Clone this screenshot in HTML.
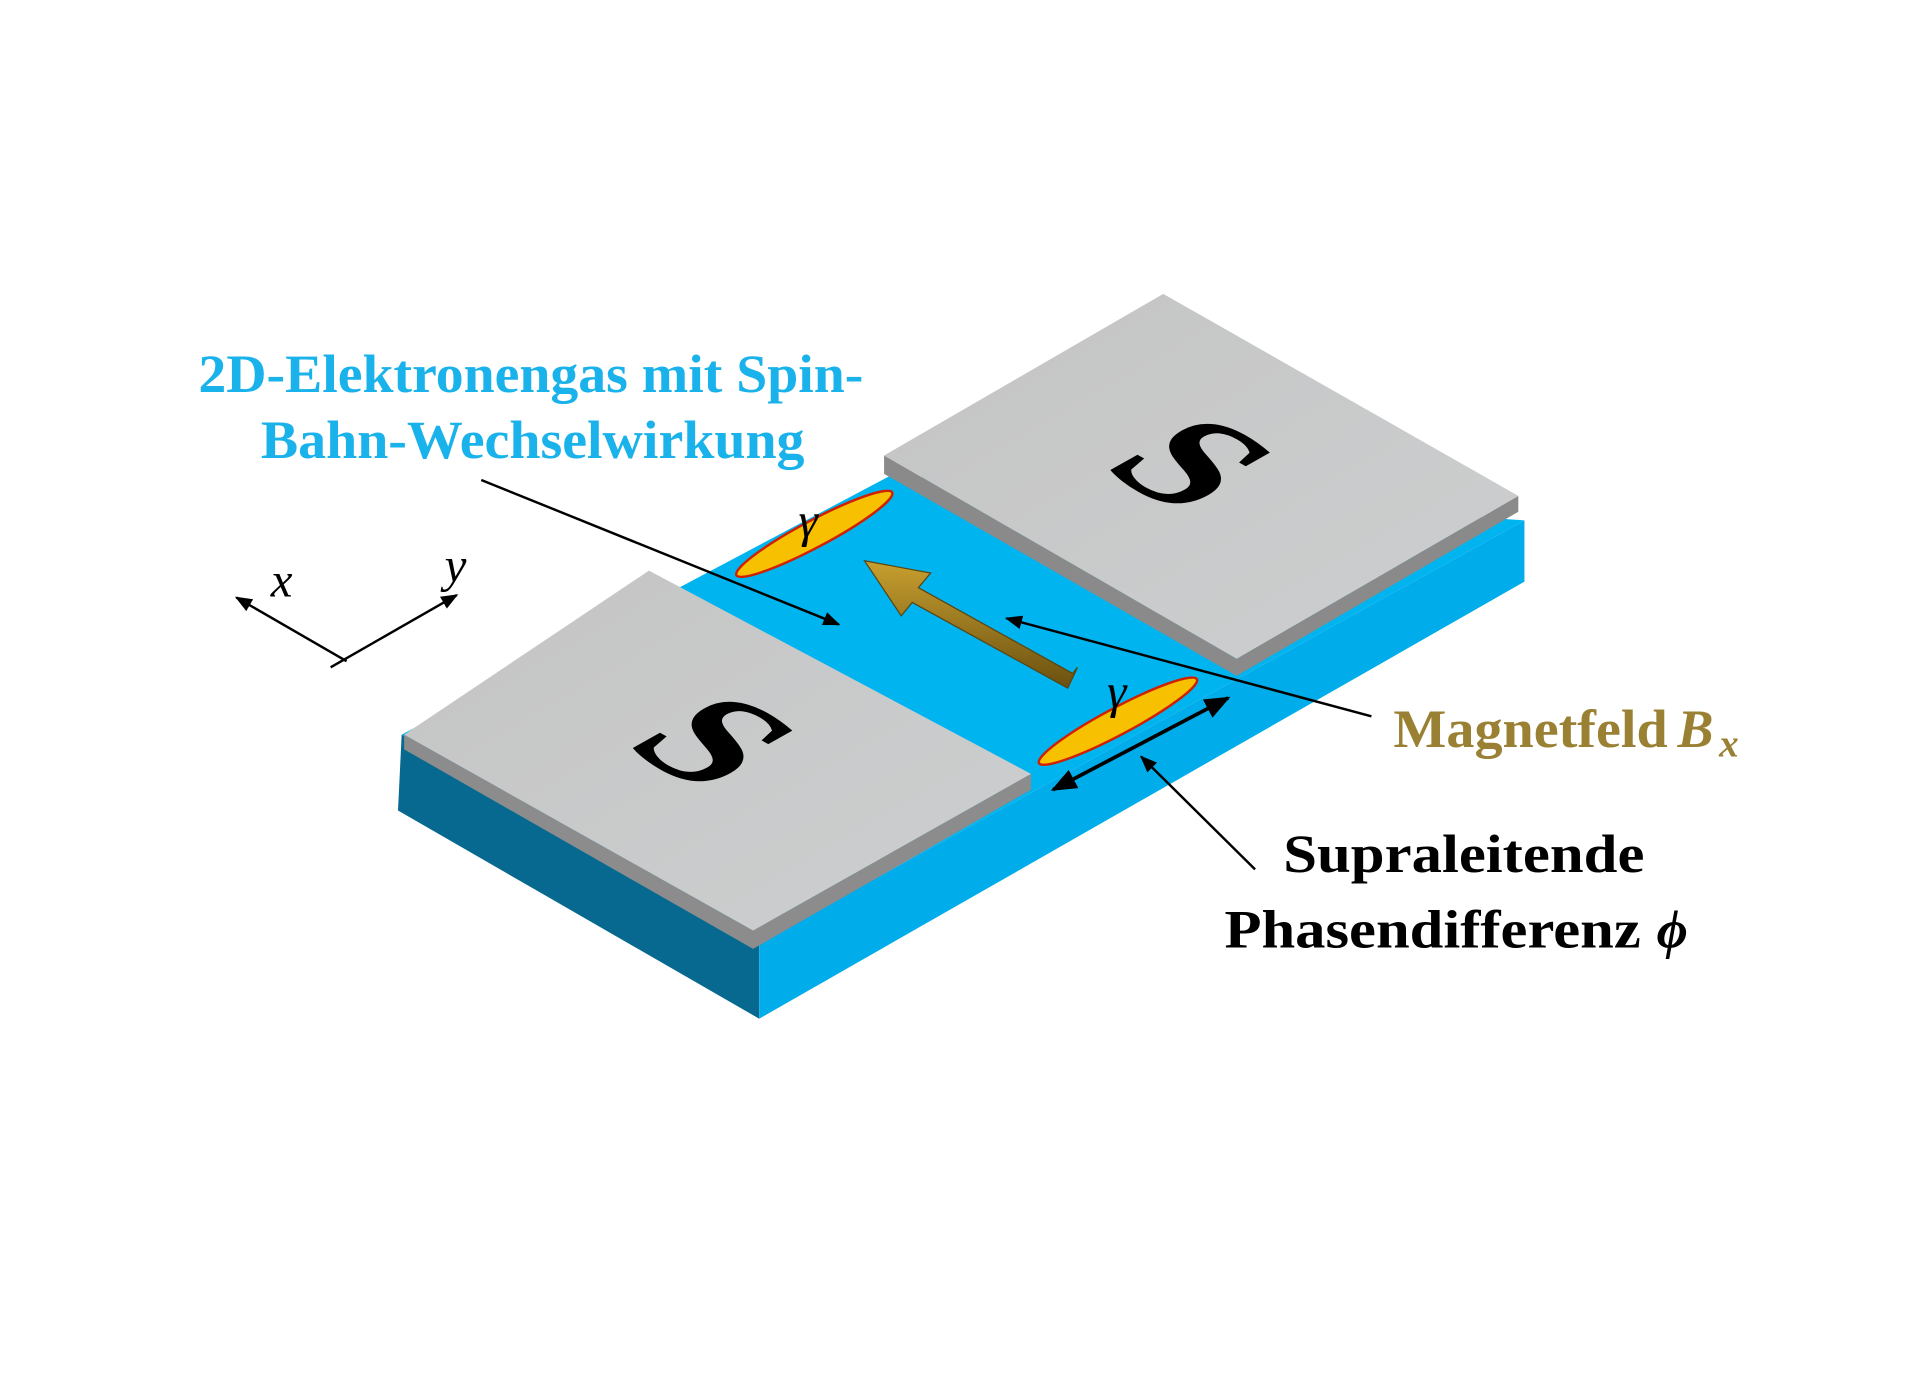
<!DOCTYPE html>
<html><head><meta charset="utf-8"><style>html,body{margin:0;padding:0;background:#fff}svg{display:block}</style></head>
<body>
<svg width="1920" height="1375" viewBox="0 0 1568 1123" xmlns="http://www.w3.org/2000/svg">
<defs>
<linearGradient id="pad" x1="0" y1="0" x2="1" y2="1"><stop offset="0" stop-color="#c4c4c4"/><stop offset="1" stop-color="#cdcfd0"/></linearGradient>
<linearGradient id="gold" x1="0" y1="0" x2="0" y2="1"><stop offset="0" stop-color="#c8a030"/><stop offset="1" stop-color="#6a5010"/></linearGradient>
<marker id="ah" viewBox="0 0 10 10" refX="9" refY="5" markerWidth="7" markerHeight="7" orient="auto-start-reverse"><path d="M0,1 L10,5 L0,9 z" fill="#000"/></marker>
</defs>
<polygon points="328,600 620,770 620,832 325,662" fill="#07698f"/>
<polygon points="620,770 1245,425 1245,475 620,832" fill="#00adea"/>
<polygon points="328,600 728,388 1245,425 620,770" fill="#00b4f0"/>
<polygon points="722,372 722,387 1010,552 1240,418 1240,405 1010,538" fill="#8a8a8a"/>
<polygon points="722,372 950,240 1240,405 1010,538" fill="url(#pad)"/>
<polygon points="330,600 330,612 615,775 842,645 842,632 615,760" fill="#8c8c8c"/>
<polygon points="330,600 530,466 842,632 615,760" fill="url(#pad)"/>
<ellipse cx="665" cy="436" rx="72" ry="11" transform="rotate(-28 665 436)" fill="#f7c000" stroke="#d02000" stroke-width="2"/>
<ellipse cx="913" cy="589" rx="73" ry="11" transform="rotate(-28 913 589)" fill="#f7c000" stroke="#d02000" stroke-width="2"/>
<polygon points="880,545 872,562 745,492 736,503 706,458 760,468 750,480 876,550" fill="url(#gold)" stroke="#5a4410" stroke-width="1"/>
<g transform="matrix(0.87,0.49,-0.87,0.49,584,605)"><text x="0" y="0" dominant-baseline="central" font-family="Liberation Serif,serif" font-weight="bold" font-size="145" text-anchor="middle">S</text></g>
<g transform="matrix(0.87,0.49,-0.87,0.49,974,378)"><text x="0" y="0" dominant-baseline="central" font-family="Liberation Serif,serif" font-weight="bold" font-size="145" text-anchor="middle">S</text></g>
<text x="660" y="438" font-family="Liberation Serif,serif" font-style="italic" font-size="40" text-anchor="middle">γ</text>
<text x="912" y="578" font-family="Liberation Serif,serif" font-style="italic" font-size="40" text-anchor="middle">γ</text>
<g font-family="Liberation Serif,serif" font-weight="bold" font-size="44">
<text x="162" y="320" fill="#1ab2ea" textLength="543" lengthAdjust="spacingAndGlyphs">2D-Elektronengas mit Spin-</text>
<text x="213" y="374" fill="#1ab2ea" textLength="444" lengthAdjust="spacingAndGlyphs">Bahn-Wechselwirkung</text>
<text x="1138" y="610" fill="#9a8033" textLength="224" lengthAdjust="spacingAndGlyphs">Magnetfeld</text>
<text x="1370" y="610" fill="#9a8033" font-style="italic">B</text>
<text x="1404" y="618" fill="#9a8033" font-style="italic" font-size="32">x</text>
<text x="1048" y="712" fill="#000" textLength="295" lengthAdjust="spacingAndGlyphs">Supraleitende</text>
<text x="1000" y="774" fill="#000" textLength="340" lengthAdjust="spacingAndGlyphs">Phasendifferenz</text>
<text x="1353" y="774" fill="#000" font-style="italic">ϕ</text>
</g>
<g stroke="#000" stroke-width="2" fill="none">
<line x1="393" y1="392" x2="685" y2="510" marker-end="url(#ah)"/>
<line x1="1120" y1="585" x2="822" y2="505" marker-end="url(#ah)"/>
<line x1="1025" y1="710" x2="932" y2="618" marker-end="url(#ah)"/>
<line x1="860" y1="645" x2="1003" y2="570" stroke-width="3" marker-start="url(#ah)" marker-end="url(#ah)"/>
<line x1="283" y1="540" x2="193" y2="488" marker-end="url(#ah)"/>
<line x1="270" y1="545" x2="373" y2="486" marker-end="url(#ah)"/>
</g>
<text x="230" y="487" font-family="Liberation Serif,serif" font-style="italic" font-size="40" text-anchor="middle">x</text>
<text x="372" y="475" font-family="Liberation Serif,serif" font-style="italic" font-size="40" text-anchor="middle">y</text>
</svg>
</body></html>
